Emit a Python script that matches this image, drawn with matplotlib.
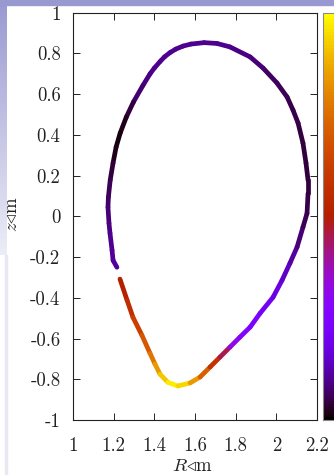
import numpy as np
import matplotlib
matplotlib.use("Agg")
import matplotlib.pyplot as plt
from matplotlib.collections import LineCollection
from matplotlib.colors import ListedColormap, Normalize
from matplotlib.patches import Rectangle

plt.rcParams["font.family"] = ["cmr10", "DejaVu Serif"]
plt.rcParams["mathtext.fontset"] = "cm"
plt.rcParams["axes.unicode_minus"] = False

# Plasma boundary, traced from the lower-left leg clockwise round to the upper-left end
R_m = [1.231, 1.266, 1.295, 1.339, 1.379, 1.403, 1.428, 1.467, 1.516, 1.576,
       1.625, 1.674, 1.723, 1.772, 1.821, 1.871, 1.920, 1.984, 2.028, 2.067,
       2.102, 2.131, 2.151, 2.156, 2.156, 2.146, 2.131, 2.107, 2.082, 2.053,
       2.003, 1.935, 1.871, 1.772, 1.708, 1.645, 1.580, 1.541, 1.505, 1.477,
       1.450, 1.428, 1.400, 1.379, 1.344, 1.297, 1.262, 1.232, 1.212, 1.197,
       1.183, 1.174, 1.172, 1.177, 1.182, 1.192, 1.197, 1.216]
z_m = [-0.308, -0.412, -0.496, -0.584, -0.673, -0.725, -0.775, -0.815, -0.833, -0.818,
       -0.789, -0.740, -0.691, -0.642, -0.593, -0.544, -0.476, -0.397, -0.314, -0.230,
       -0.151, -0.053, 0.015, 0.113, 0.177, 0.261, 0.360, 0.458, 0.522, 0.586,
       0.655, 0.728, 0.783, 0.832, 0.849, 0.853, 0.846, 0.836, 0.821, 0.804,
       0.783, 0.760, 0.728, 0.700, 0.643, 0.561, 0.487, 0.409, 0.340, 0.262,
       0.178, 0.094, 0.045, -0.034, -0.083, -0.166, -0.216, -0.250]
# Normalised quantity along the boundary (colour scale 0..1)
q_val = [0.47, 0.53, 0.59, 0.66, 0.74, 0.80, 0.88, 0.96, 0.99, 0.90,
         0.78, 0.65, 0.52, 0.38, 0.26, 0.245, 0.22, 0.19, 0.16, 0.13,
         0.10, 0.065, 0.055, 0.045, 0.04, 0.04, 0.04, 0.045, 0.05, 0.055,
         0.065, 0.075, 0.085, 0.095, 0.10, 0.10, 0.10, 0.10, 0.10, 0.10,
         0.10, 0.10, 0.095, 0.095, 0.085, 0.06, 0.03, 0.01, 0.015, 0.03,
         0.05, 0.065, 0.075, 0.085, 0.09, 0.10, 0.105, 0.11]

x_ticks = [1.0, 1.2, 1.4, 1.6, 1.8, 2.0, 2.2]
x_tick_labels = ["1", "1.2", "1.4", "1.6", "1.8", "2", "2.2"]
y_ticks = [-1.0, -0.8, -0.6, -0.4, -0.2, 0.0, 0.2, 0.4, 0.6, 0.8, 1.0]
y_tick_labels = ["-1", "-0.8", "-0.6", "-0.4", "-0.2", "0", "0.2", "0.4", "0.6", "0.8", "1"]

# gnuplot default palette (rgbformulae 7,5,15)
def gnuplot_palette(n):
    t = np.linspace(0, 1, n)
    r = np.sqrt(t)
    g = t ** 3
    b = np.clip(np.sin(2 * np.pi * t), 0, 1)
    return ListedColormap(np.column_stack([r, g, b]))

cmap = gnuplot_palette(128)
norm = Normalize(0, 1)

W, H = 334, 475
fig = plt.figure(figsize=(W / 100, H / 100), dpi=100)
fig.patch.set_facecolor("white")

# page background strip
bg = fig.add_axes([0, 0, 1, 1], zorder=-5)
bg.axis("off")
grad = np.linspace(0, 1, 256)[:, None]
lav = np.array([0.60, 0.60, 0.82])
pale = np.array([0.93, 0.93, 0.97])
img = lav[None, None, :] * (1 - grad[..., None]) + pale[None, None, :] * grad[..., None]
bg.imshow(img, extent=(0, 7, 255, 0), aspect="auto", interpolation="bilinear")
bg.add_patch(Rectangle((0, 0), W, 5, color=lav))
bg.add_patch(Rectangle((5, 255), 2, H - 255, color=(0.91, 0.91, 0.95)))
bg.set_xlim(0, W)
bg.set_ylim(H, 0)

ax = fig.add_axes([73 / W, 1 - 420 / H, 244 / W, 407.3 / H])

pts = np.column_stack([R_m, z_m])
segs = np.stack([pts[:-1], pts[1:]], axis=1)
q = np.asarray(q_val)
seg_q = 0.5 * (q[:-1] + q[1:])
lc = LineCollection(segs, cmap=cmap, norm=norm, linewidths=3.4,
                    capstyle="round", joinstyle="round")
lc.set_array(seg_q)
ax.add_collection(lc)

ax.set_xlim(1.0, 2.2)
ax.set_ylim(-1.0, 1.0)
ax.set_xticks(x_ticks)
ax.set_xticklabels(x_tick_labels)
ax.set_yticks(y_ticks)
ax.set_yticklabels(y_tick_labels)
ax.tick_params(direction="in", length=5, width=0.7, top=True, right=True,
               labelsize=13.5, colors="#222222", labelcolor="#222222")
ax.tick_params(axis="x", pad=12)
ax.tick_params(axis="y", pad=9)
for s in ax.spines.values():
    s.set_linewidth(0.8)
    s.set_color("#222222")

ax.set_xlabel(r"$R{\triangleleft}\mathrm{m}$", fontsize=13.5, color="#222222")
ax.xaxis.set_label_coords(0.49, -0.113)
ax.xaxis.label.set_va("center")
ax.set_ylabel(r"$z{\triangleleft}\mathrm{m}$", fontsize=13.5, color="#222222")
ax.yaxis.set_label_coords((12 - 73) / 244, (420 - 214) / 407.3)
ax.yaxis.label.set_va("center")

# colour box
cax = fig.add_axes([323 / W, 1 - 420 / H, 25 / W, 407.3 / H])
cb = fig.colorbar(plt.cm.ScalarMappable(norm=norm, cmap=cmap), cax=cax)
cb.outline.set_edgecolor("#888888")
cb.outline.set_linewidth(0.8)
cax.set_yticks([])

fig.savefig("out.png", dpi=100, facecolor=fig.get_facecolor())
